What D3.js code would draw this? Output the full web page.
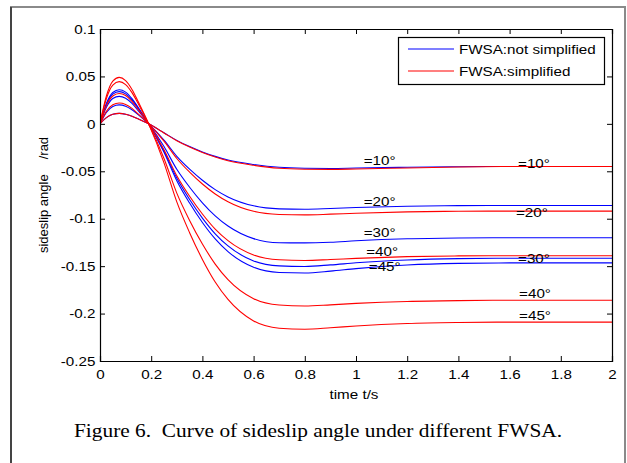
<!DOCTYPE html>
<html>
<head>
<meta charset="utf-8">
<script src="https://cdn.jsdelivr.net/npm/d3@7"></script>
<style>
  body { margin: 0; background: #fff; }
  text { font-family: "Liberation Sans", Arial, sans-serif; }
  text.caption { font-family: "Liberation Serif", "Times New Roman", serif; }
</style>
</head>
<body>
<script>
// time samples (s)
let times = [0, 0.025, 0.05, 0.075, 0.1, 0.125, 0.15, 0.19, 0.25, 0.3, 0.35, 0.4, 0.45, 0.5, 0.6, 0.7, 0.8, 0.9, 1.0, 1.2, 1.4, 1.6, 2.0];

// FWSA: not simplified (blue)
let blue10 = [0, .0066, .0101, .011, .0102, .0081, .0052, 0, -.0094, -.0174, -.024, -.0296, -.0343, -.0381, -.0428, -.0458, -.0468, -.047, -.0466, -.0458, -.0452, -.045, -.045];
let blue20 = [0, .012, .0184, .020, .0186, .0148, .0094, 0, -.0171, -.0342, -.0477, -.0594, -.0693, -.077, -.0864, -.0896, -.090, -.0892, -.0882, -.0868, -.0862, -.086, -.086];
let blue30 = [0, .0174, .0267, .029, .027, .0215, .0136, 0, -.0239, -.0479, -.0668, -.0832, -.097, -.1077, -.121, -.1254, -.1255, -.1248, -.1233, -.1212, -.1203, -.120, -.120];
let blue40 = [0, .0204, .0313, .034, .0316, .0252, .016, 0, -.0286, -.0572, -.0798, -.0993, -.1159, -.1287, -.1445, -.1497, -.1503, -.1487, -.1465, -.1435, -.1421, -.1417, -.1417];
let blue45 = [0, .0216, .0331, .036, .0335, .0266, .0169, 0, -.0299, -.0599, -.0835, -.104, -.1213, -.1347, -.1512, -.1567, -.1572, -.1553, -.1526, -.1488, -.1471, -.1466, -.1466];

// FWSA: simplified (red)
let red10 = [0, .0066, .0101, .011, .0102, .0081, .0052, 0, -.0096, -.0178, -.0245, -.0302, -.035, -.0389, -.0437, -.0468, -.0478, -.048, -.0476, -.0465, -.0455, -.045, -.045];
let red20 = [0, .0132, .0202, .022, .0205, .0163, .0103, 0, -.0182, -.0365, -.0509, -.0634, -.0739, -.0821, -.0922, -.0955, -.096, -.0952, -.0942, -.0928, -.0922, -.092, -.092];
let red30 = [0, .0192, .0294, .032, .0298, .0237, .015, 0, -.0274, -.0547, -.0763, -.095, -.1109, -.1231, -.1382, -.1433, -.144, -.143, -.1418, -.140, -.1392, -.139, -.139];
let red40 = [0, .0267, .0409, .0445, .0414, .0329, .0209, 0, -.0365, -.073, -.1018, -.1267, -.1478, -.1642, -.1843, -.191, -.192, -.1908, -.1893, -.1872, -.1863, -.186, -.186];
let red45 = [0, .0294, .0451, .049, .0456, .0363, .023, 0, -.0411, -.0823, -.1147, -.1429, -.1667, -.1851, -.2078, -.2154, -.2165, -.215, -.2131, -.2105, -.2094, -.209, -.209];

// curve annotations: text, t, value
let labelTexts = ["=10°", "=20°", "=30°", "=40°", "=45°", "=10°", "=20°", "=30°", "=40°", "=45°"];
let labelT = [1.03, 1.03, 1.03, 1.04, 1.05, 1.633, 1.625, 1.633, 1.637, 1.637];
let labelV = [-0.0433, -0.0866, -0.1192, -0.1393, -0.155, -0.0465, -0.0981, -0.1466, -0.1835, -0.2067];

let xTicks = [0, 0.2, 0.4, 0.6, 0.8, 1, 1.2, 1.4, 1.6, 1.8, 2];
let yTicks = [0.1, 0.05, 0, -0.05, -0.1, -0.15, -0.2, -0.25];
let legendNames = ["FWSA:not simplified", "FWSA:simplified"];

let W = 627, H = 463;
let plot = { left: 100, right: 612, top: 29, bottom: 361 };
let sx = 1.17; // picture is stretched horizontally

let svg = d3.select("body").append("svg")
  .attr("width", W).attr("height", H);

// outer frame
svg.append("rect")
  .attr("x", 11).attr("y", 7).attr("width", 614).attr("height", 470)
  .attr("fill", "none").attr("stroke", "#8a8a8a").attr("stroke-width", 2);
svg.append("line")
  .attr("x1", 11).attr("x2", 11).attr("y1", 7).attr("y2", H)
  .attr("stroke", "#444").attr("stroke-width", 2);

let xScale = d3.scaleLinear().domain([0, 2]).range([plot.left, plot.right]);
let yScale = d3.scaleLinear().domain([-0.25, 0.1]).range([plot.bottom, plot.top]);

svg.append("clipPath").attr("id", "clip")
  .append("rect").attr("x", plot.left).attr("y", plot.top)
  .attr("width", plot.right - plot.left).attr("height", plot.bottom - plot.top);

let line = d3.line()
  .x((d, i) => xScale(times[i]))
  .y(d => yScale(d))
  .curve(d3.curveMonotoneX);

let series = [
  { v: blue10, c: "#0000ff" }, { v: blue20, c: "#0000ff" }, { v: blue30, c: "#0000ff" },
  { v: blue40, c: "#0000ff" }, { v: blue45, c: "#0000ff" },
  { v: red10, c: "#ff0000" }, { v: red20, c: "#ff0000" }, { v: red30, c: "#ff0000" },
  { v: red40, c: "#ff0000" }, { v: red45, c: "#ff0000" }
];

svg.append("g").attr("clip-path", "url(#clip)")
  .selectAll("path").data(series).join("path")
  .attr("d", d => line(d.v))
  .attr("fill", "none")
  .attr("stroke", d => d.c)
  .attr("stroke-width", 1.1);

// axes, ticks inward like matlab
let fmt = d => "" + d;
svg.append("g").attr("transform", `translate(0, ${plot.bottom})`)
  .call(d3.axisBottom(xScale).tickValues(xTicks).tickFormat(fmt).tickSize(-5).tickPadding(8.5));
svg.append("g").attr("transform", `translate(0, ${plot.top})`)
  .call(d3.axisTop(xScale).tickValues(xTicks).tickFormat("").tickSize(-5));
svg.append("g").attr("transform", `translate(${plot.left}, 0)`)
  .call(d3.axisLeft(yScale).tickValues(yTicks).tickFormat(fmt).tickSize(-5).tickPadding(4));
svg.append("g").attr("transform", `translate(${plot.right}, 0)`)
  .call(d3.axisRight(yScale).tickValues(yTicks).tickFormat("").tickSize(-5));

svg.selectAll(".domain").attr("stroke", "#000").attr("stroke-width", 1.2);
svg.selectAll(".tick line").attr("stroke", "#000");
svg.selectAll(".tick text")
  .attr("font-size", 13)
  .attr("fill", "#000")
  .attr("transform", `scale(${sx},1)`);

// curve labels
svg.append("g").selectAll("text").data(labelTexts).join("text")
  .text(d => d)
  .attr("font-size", 13)
  .attr("transform", (d, i) => `translate(${xScale(labelT[i])}, ${yScale(labelV[i])}) scale(${sx},1)`);

// x label
svg.append("text").text("time t/s")
  .attr("font-size", 13)
  .attr("text-anchor", "middle")
  .attr("transform", `translate(${(plot.left + plot.right) / 2 - 2}, 399) scale(${sx},1)`);

// y label
let yLabel = svg.append("text")
  .attr("font-size", 13)
  .attr("text-anchor", "middle")
  .attr("transform", `translate(48, ${(plot.top + plot.bottom) / 2}) rotate(-90)`);
yLabel.append("tspan").text("sideslip angle");
yLabel.append("tspan").attr("dx", 15).text("/rad");

// legend
let legend = svg.append("g");
legend.append("rect")
  .attr("x", 398.5).attr("y", 37.5).attr("width", 206).attr("height", 47)
  .attr("fill", "#fff").attr("stroke", "#000").attr("stroke-width", 1.2);
let legendColors = ["#0000ff", "#ff0000"];
legend.selectAll("line").data(legendNames).join("line")
  .attr("x1", 408).attr("x2", 454)
  .attr("y1", (d, i) => 49 + i * 22).attr("y2", (d, i) => 49 + i * 22)
  .attr("stroke", (d, i) => legendColors[i]).attr("stroke-width", 1.1);
legend.selectAll("text").data(legendNames).join("text")
  .text(d => d)
  .attr("font-size", 13)
  .attr("transform", (d, i) => `translate(459, ${54 + i * 22}) scale(${sx},1)`);

// caption
svg.append("text")
  .attr("class", "caption")
  .text("Figure 6.  Curve of sideslip angle under different FWSA.")
  .attr("xml:space", "preserve")
  .style("white-space", "pre")
  .attr("font-size", 19)
  .attr("text-anchor", "middle")
  .attr("transform", `translate(318, 437) scale(1.125,1)`);
</script>
</body>
</html>
